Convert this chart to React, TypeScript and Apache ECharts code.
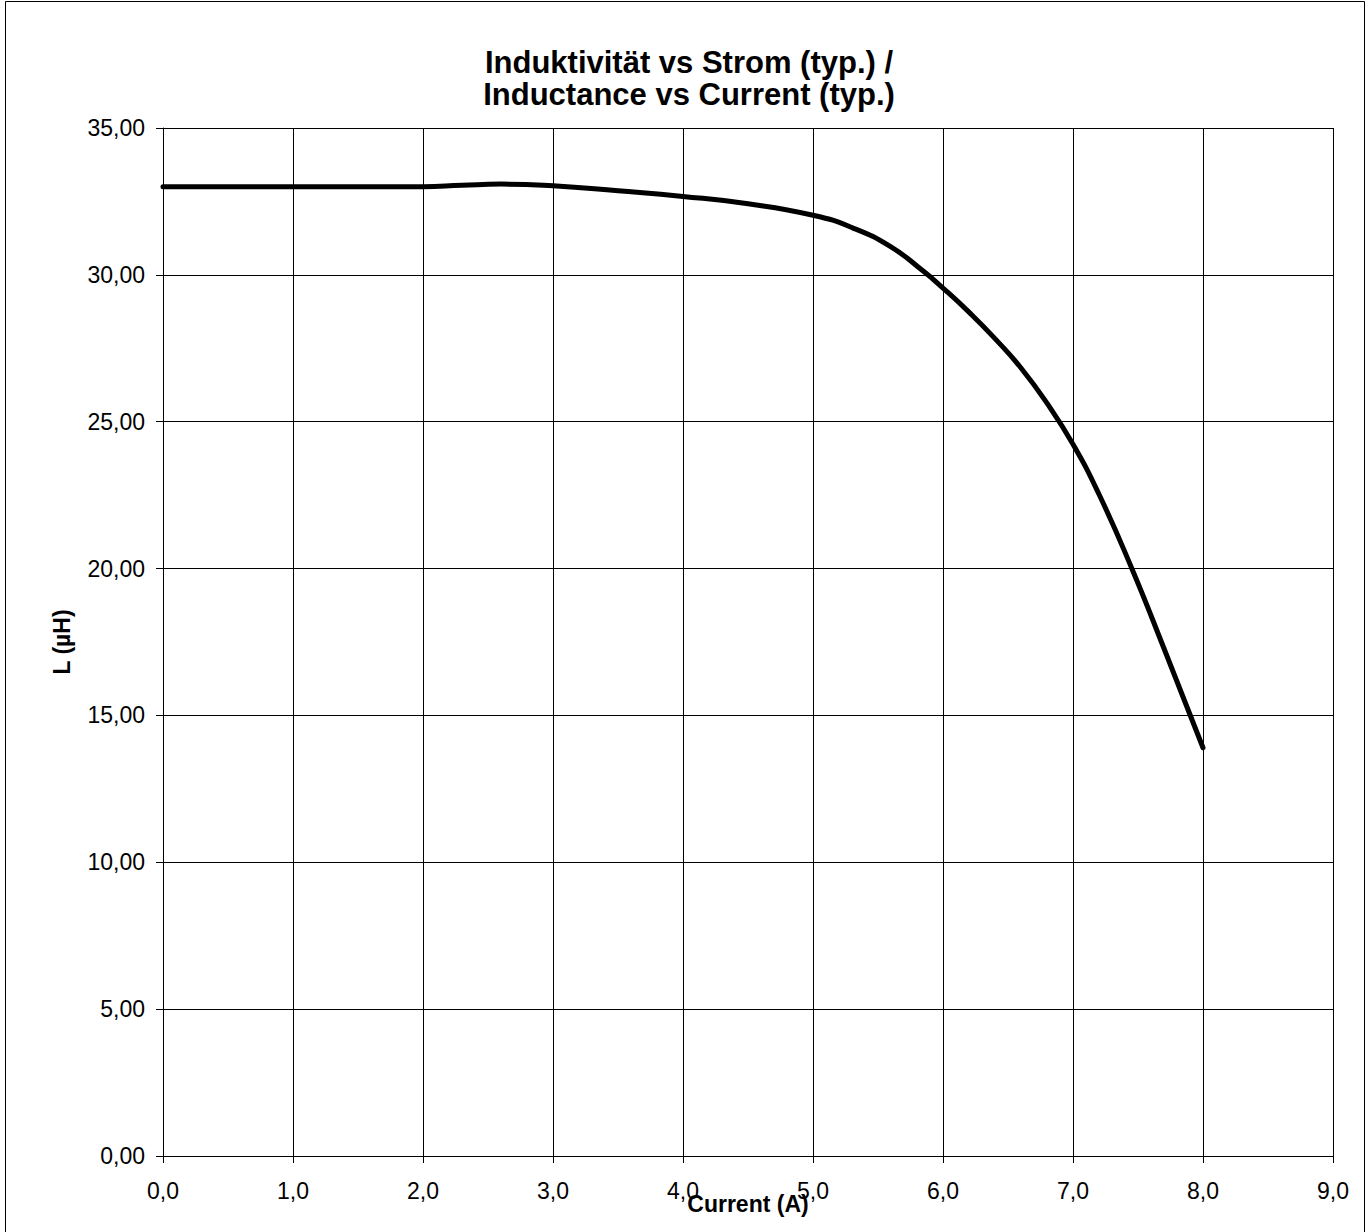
import React, { useEffect, useRef } from "react";
import * as echarts from "echarts";

const titleLines = ["Induktivität vs Strom (typ.) /", "Inductance vs Current (typ.)"];
const xAxisName = "Current (A)";
const yAxisName = "L (µH)";

const xMin = 0;
const xMax = 9;
const xStep = 1;
const yMin = 0;
const yMax = 35;
const yStep = 5;

const currentA = [0, 1, 2, 2.3, 2.6, 3, 3.5, 4, 4.5, 5, 5.3, 5.6, 5.85, 6, 6.2, 6.4, 6.6, 6.8, 7, 7.2, 7.45, 7.7, 8];
const inductanceUH = [33.0, 33.0, 33.0, 33.05, 33.09, 33.03, 32.86, 32.67, 32.42, 32.03, 31.61, 30.95, 30.12, 29.55, 28.73, 27.83, 26.83, 25.63, 24.23, 22.53, 20.03, 17.28, 13.9];

const FONT = "'Liberation Sans', Arial, Helvetica, sans-serif";

export default function App() {
  const ref = useRef<HTMLDivElement>(null);

  useEffect(() => {
    if (!ref.current) return;
    const chart = echarts.init(ref.current, undefined, { renderer: "svg" });
    const seriesData = currentA.map((x, i) => [x, inductanceUH[i]]);
    const titleStyle = {
      fontFamily: FONT,
      fontSize: 31,
      fontWeight: "bold",
      color: "#000",
      lineHeight: 31,
    };
    chart.setOption({
      animation: false,
      backgroundColor: "#fff",
      title: titleLines.map((t, i) => ({
        text: t,
        left: 689,
        top: 47 + i * 32,
        padding: 0,
        textAlign: "center",
        textStyle: titleStyle,
      })),
      graphic: [
        {
          type: "rect",
          shape: { x: 5.5, y: 1.5, width: 1359, height: 1260 },
          style: { fill: "none", stroke: "#000", lineWidth: 1 },
          silent: true,
          z: 100,
        },
      ],
      grid: {
        left: 163,
        top: 128,
        right: 38,
        bottom: 76,
        containLabel: false,
      },
      xAxis: {
        type: "value",
        min: xMin,
        max: xMax,
        interval: xStep,
        name: xAxisName,
        nameLocation: "middle",
        nameGap: 48,
        nameMoveOverlap: false,
        nameTextStyle: {
          fontFamily: FONT,
          fontSize: 23,
          fontWeight: "bold",
          color: "#000",
          align: "center",
          verticalAlign: "middle",
        },
        axisLine: { show: true, onZero: false, lineStyle: { color: "#000", width: 1 } },
        axisTick: { show: true, inside: false, length: 7, lineStyle: { color: "#000", width: 1 } },
        axisLabel: {
          margin: 23,
          fontFamily: FONT,
          fontSize: 23,
          color: "#000",
          formatter: (v: number) => v.toFixed(1).replace(".", ","),
        },
        splitLine: { show: true, lineStyle: { color: "#000", width: 1 } },
      },
      yAxis: {
        type: "value",
        min: yMin,
        max: yMax,
        interval: yStep,
        name: yAxisName,
        nameLocation: "middle",
        nameGap: 90,
        nameRotate: 90,
        nameMoveOverlap: false,
        nameTextStyle: {
          fontFamily: FONT,
          fontSize: 23,
          fontWeight: "bold",
          color: "#000",
        },
        axisLine: { show: true, lineStyle: { color: "#000", width: 1 } },
        axisTick: { show: true, inside: false, length: 7, lineStyle: { color: "#000", width: 1 } },
        axisLabel: {
          margin: 18,
          fontFamily: FONT,
          fontSize: 23,
          color: "#000",
          formatter: (v: number) => v.toFixed(2).replace(".", ","),
        },
        splitLine: { show: true, lineStyle: { color: "#000", width: 1 } },
      },
      series: [
        {
          type: "line",
          data: seriesData,
          smooth: 0.5,
          symbol: "none",
          lineStyle: { color: "#000", width: 5, cap: "round", join: "round" },
          z: 10,
        },
      ],
    });
    return () => chart.dispose();
  }, []);

  return (
    <div
      ref={ref}
      style={{ position: "absolute", left: 0, top: 0, width: 1371, height: 1232 }}
    />
  );
}
